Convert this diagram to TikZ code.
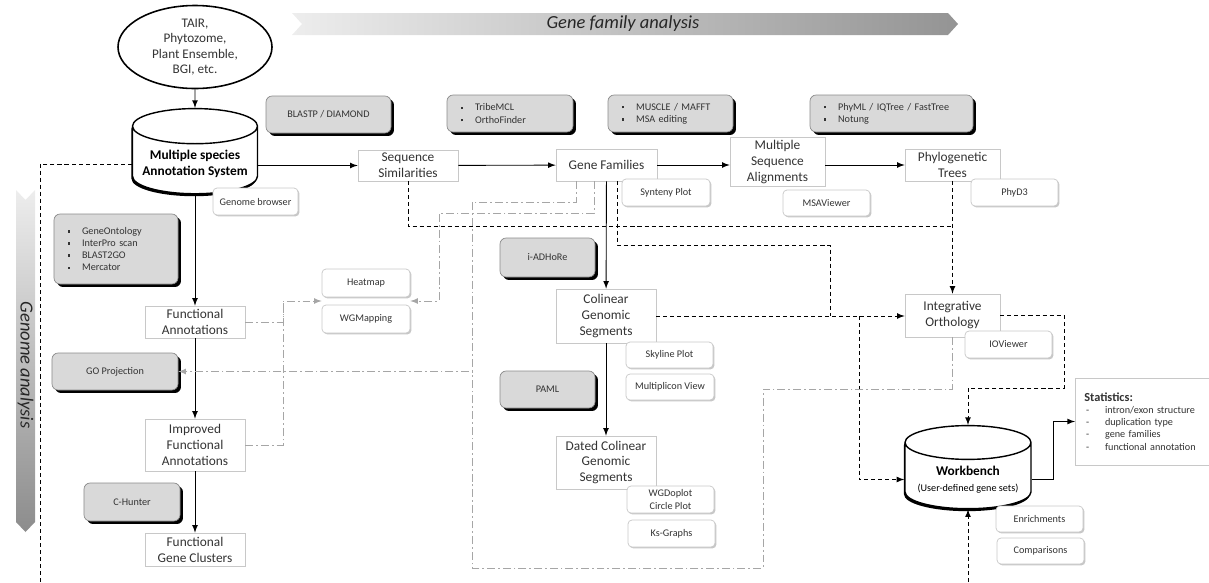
\documentclass[tikz,border=0pt]{standalone}
\usepackage{fontspec}
\setmainfont{Carlito}
\usetikzlibrary{shapes.geometric,calc,arrows}

\definecolor{boxline}{HTML}{C8C8C8}
\definecolor{toolfill}{HTML}{D9D9D9}
\definecolor{toolline}{HTML}{8C8C8C}
\definecolor{txt}{HTML}{333333}
\definecolor{visgray}{HTML}{A6A6A6}

\newcommand{\blt}{\rule[0.35ex]{1.4pt}{1.4pt}\hspace{6.6pt}}
\newcommand{\dsh}{-\hspace{9pt}}

\tikzstyle{proc}=[rectangle,draw=boxline,fill=white,text=txt,align=center,inner sep=0.5pt,font=\fontsize{7.6}{9.1}\selectfont]
\tikzstyle{tool}=[rectangle,rounded corners=3.5pt,draw=toolline,fill=toolfill,text=txt,align=center,font=\fontsize{5.8}{6.9}\selectfont,preaction={fill=black,transform canvas={xshift=1.7pt,yshift=-1.7pt}}]
\tikzstyle{toollist}=[tool,align=left,inner xsep=2.8mm]
\tikzstyle{viewer}=[rectangle,rounded corners=2.3pt,draw=boxline,fill=white,text=txt,align=center,inner sep=0.5pt,font=\fontsize{5.8}{6.9}\selectfont,preaction={fill=black!22,transform canvas={xshift=0.8pt,yshift=-0.8pt}}]
\tikzstyle{db}=[cylinder,shape border rotate=90,aspect=0.3,draw,line width=0.8pt,fill=white,text=black,align=center,preaction={fill=black,transform canvas={xshift=-0.6pt,yshift=-1.4pt}}]
\tikzstyle{flow}=[->,line width=0.5pt,>=latex]
\tikzstyle{dep}=[line width=0.5pt,dash pattern=on 2.3pt off 1.7pt]
\tikzstyle{depA}=[dep,->,>=latex]
\tikzstyle{vis}=[draw=visgray,line width=0.5pt,dash pattern=on 4.5pt off 1.7pt on 1pt off 1.7pt]
\tikzstyle{visA}=[vis,->,>=latex]

\begin{document}
\begin{tikzpicture}[x=0.2mm,y=-0.2mm]
  \useasboundingbox (0,0) rectangle (1209,582);

  % banners
  \shade[left color=black!7,right color=black!42] (292,13) -- (948,13) -- (958,24) -- (948,35) -- (292,35) -- (302,24) -- cycle;
  \node[font=\itshape\fontsize{10.5}{12}\selectfont,text=black!85] (gfa) at (623,24) {Gene family analysis};
  \shade[top color=black!7,bottom color=black!45] (16,190) -- (25.5,200) -- (35,190) -- (35,522) -- (25.5,532) -- (16,522) -- cycle;
  \node[rotate=-90,font=\itshape\fontsize{10.5}{12}\selectfont,text=black!85] (ga) at (25.5,365) {Genome analysis};

  % main flow
  \node[ellipse,draw,line width=0.9pt,minimum width=30.8mm,minimum height=16.6mm,inner sep=0pt,align=center,text=txt,font=\fontsize{7.5}{8.7}\selectfont] (src) at (195,47) {TAIR,\\Phytozome,\\Plant Ensemble,\\BGI, etc.};
  \node[db,minimum width=25mm,minimum height=14.4mm,font=\bfseries\fontsize{7.6}{9.1}\selectfont] (mas) at (195,164) {Multiple species\\Annotation System};
  \node[proc,minimum width=20mm,minimum height=6.2mm] (seqsim) at (408,165.5) {Sequence\\Similarities};
  \node[proc,minimum width=20.2mm,minimum height=6.4mm] (genefam) at (606.5,165) {Gene Families};
  \node[proc,minimum width=19mm,minimum height=9.8mm] (msa) at (777.5,162) {Multiple\\Sequence\\Alignments};
  \node[proc,minimum width=19mm,minimum height=6.4mm] (phylo) at (952.5,165) {Phylogenetic\\Trees};

  \node[tool,minimum width=25mm,minimum height=7.4mm] (blastp) at (328.5,114.5) {BLASTP / DIAMOND};
  \node[toollist,text width=19.6mm,minimum height=7.4mm] (tribe) at (510,113.5) {\blt TribeMCL\\\blt OrthoFinder};
  \node[toollist,text width=19.4mm,minimum height=7.4mm] (muscle) at (670.5,113.5) {\blt MUSCLE / MAFFT\\\blt MSA editing};
  \node[toollist,text width=27mm,minimum height=7.4mm] (phyml) at (891.5,113.5) {\blt PhyML / IQTree / FastTree\\\blt Notung};

  % genome analysis
  \node[toollist,text width=19.2mm,minimum height=14mm] (gotools) at (116,249) {\blt GeneOntology\\\blt InterPro scan\\\blt BLAST2GO\\\blt Mercator};
  \node[proc,minimum width=20mm,minimum height=6.4mm] (funcann) at (195,322) {Functional\\Annotations};
  \node[tool,minimum width=25.2mm,minimum height=7.4mm] (goproj) at (115,371.5) {GO Projection};
  \node[proc,minimum width=20mm,minimum height=10.4mm] (impfa) at (195,445) {Improved\\Functional\\Annotations};
  \node[tool,minimum width=19.2mm,minimum height=7.6mm] (chunter) at (132,502) {C-Hunter};
  \node[proc,minimum width=20mm,minimum height=6.6mm] (fgc) at (195,549.5) {Functional\\Gene Clusters};

  % synteny
  \node[tool,minimum width=19mm,minimum height=7.8mm] (iadhore) at (547.5,257.5) {i-ADHoRe};
  \node[proc,minimum width=20mm,minimum height=10.8mm] (colinear) at (606,316) {Colinear\\Genomic\\Segments};
  \node[tool,minimum width=19mm,minimum height=7.4mm] (paml) at (547.5,389.5) {PAML};
  \node[proc,minimum width=20mm,minimum height=10.6mm] (dated) at (606,462.5) {Dated Colinear\\Genomic\\Segments};

  \node[proc,minimum width=19mm,minimum height=8.6mm] (intorth) at (952.5,315.5) {Integrative\\Orthology};
  \node[db,minimum width=25.2mm,minimum height=15mm,font=\bfseries\fontsize{7.6}{9.1}\selectfont] (wb) at (968,479.5) {Workbench\\{\mdseries\fontsize{5.8}{7}\selectfont(User-defined gene sets)}};
  \node[proc,anchor=west,align=left,minimum height=17.4mm,inner xsep=1.8mm,text width=24.4mm,font=\fontsize{5.8}{6.9}\selectfont] (stats) at (1075,421.5) {{\bfseries\fontsize{7}{8}\selectfont Statistics:}\\\hspace{1pt}\dsh intron/exon structure\\\hspace{1pt}\dsh duplication type\\\hspace{1pt}\dsh gene families\\\hspace{1pt}\dsh functional annotation};

  % viewers
  \node[viewer,minimum width=17mm,minimum height=5.4mm] (gbrowse) at (255.5,201.5) {Genome browser};
  \node[viewer,minimum width=17.6mm,minimum height=5.4mm] (synteny) at (666,192.5) {Synteny Plot};
  \node[viewer,minimum width=17.4mm,minimum height=5.2mm] (msaview) at (826.5,203) {MSAViewer};
  \node[viewer,minimum width=17.4mm,minimum height=5.4mm] (phyd3) at (1014.5,192.5) {PhyD3};
  \node[viewer,minimum width=17.6mm,minimum height=5.6mm] (heatmap) at (366,283) {Heatmap};
  \node[viewer,minimum width=17.6mm,minimum height=5.6mm] (wgmap) at (366,319) {WGMapping};
  \node[viewer,minimum width=17.4mm,minimum height=5.2mm] (skyline) at (669.5,355) {Skyline Plot};
  \node[viewer,minimum width=17.6mm,minimum height=5.2mm] (multiplicon) at (670,387) {Multiplicon View};
  \node[viewer,minimum width=17.4mm,minimum height=5.4mm] (wgdoplot) at (670.5,499.5) {WGDoplot\\Circle Plot};
  \node[viewer,minimum width=17.4mm,minimum height=5.4mm] (ksgraphs) at (671.5,533.5) {Ks-Graphs};
  \node[viewer,minimum width=17.4mm,minimum height=5.4mm] (ioview) at (1008.5,344.5) {IOViewer};
  \node[viewer,minimum width=17.4mm,minimum height=5.2mm] (enrich) at (1039.5,519) {Enrichments};
  \node[viewer,minimum width=17.4mm,minimum height=5.2mm] (compar) at (1040.5,551) {Comparisons};

  % bends and loose ends
  \coordinate (lbot) at (40,582);
  \coordinate (wbin) at (968,582);
  \coordinate (j1) at (952.5,226);
  \coordinate (j2) at (830,245);
  \coordinate (j4) at (1064,388);
  \coordinate (k1) at (283,301);
  \coordinate (g2) at (439,213);
  \coordinate (g3) at (472,202);
  \coordinate (g4) at (763,389);
  \coordinate (g5) at (472,568);
  \coordinate (hmin) at ($(heatmap.south west)!0.5!(wgmap.north west)$);
  \coordinate (hmout) at ($(heatmap.south east)!0.5!(wgmap.north east)$);

  % solid flow
  \draw[flow] (src) -- (mas);
  \draw[flow] (mas.east |- seqsim.west) -- (seqsim.west);
  \draw[flow] (seqsim) -- (genefam);
  \draw[flow] (genefam.east) -- (genefam.east -| msa.west);
  \draw[flow] (msa.east |- phylo.west) -- (phylo.west);
  \draw[flow] (mas) -- (funcann);
  \draw[flow] (funcann) -- (impfa);
  \draw[flow] (impfa) -- (fgc);
  \draw[flow] (genefam) -- (colinear);
  \draw[flow] (colinear) -- (dated);
  \draw[flow] (wb.east) -- ++(22,0) |- (stats.west);

  % dashed links
  \draw[dep] (mas.west) -| (lbot);
  \draw[dep] (seqsim.south) |- (j1);
  \draw[depA] (phylo) -- (intorth);
  \draw[dep] (genefam.south -| 617,0) |- (j2) -- (j2 |- colinear.east);
  \draw[depA] (colinear.east) -- (colinear.east -| intorth.west);
  \draw[depA] (colinear.east -| 859,0) |- (wb.west);
  \draw[depA] (intorth.east) -| (j4) -| (wb.north);
  \draw[depA] (wbin) -- (wb.south);

  % visualisation links
  \draw[visA] (funcann.east) -| (k1) -- (hmin);
  \draw[vis] (impfa.east) -| (k1);
  \draw[visA] (genefam.south -| 594,0) |- (g2) |- (hmout);
  \draw[visA] (genefam.south -| 576,0) |- (g3) |- (goproj.east);
  \draw[vis] (intorth.south) |- (g4) |- (g5) -- (g5 |- goproj.east);

\end{tikzpicture}
\end{document}
